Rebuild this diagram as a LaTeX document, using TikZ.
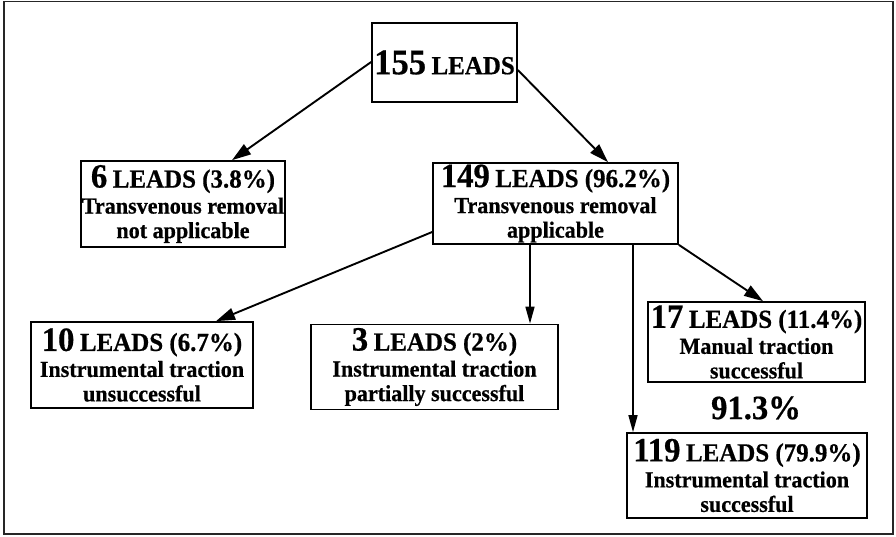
\documentclass[tikz,border=0pt]{standalone}
\usepackage{fontspec}
\setmainfont{Liberation Serif}
\newfontfamily\boxfont{Liberation Serif}[FakeStretch=0.96, FakeBold=0.6]
\usetikzlibrary{arrows.meta}

% number + "LEADS (pct)" header line of a box
\newcommand{\leadhead}[2]{{\fontsize{34}{34}\selectfont #1}\ {\fontsize{26}{26}\selectfont LEADS #2}}

\begin{document}
\begin{tikzpicture}[x=1pt,y=-1pt,
  box/.style={draw, line width=1.7pt, align=center, inner sep=0pt,
    font=\boxfont\bfseries\fontsize{23}{24.5}\selectfont},
  link/.style={line width=1.9pt, -{Triangle[length=19pt,width=12pt]}},
  drop/.style={line width=1.5pt, -{Triangle[length=17pt,width=9pt]}}]

  \useasboundingbox (0,0) rectangle (896,536);
  \draw[line width=1.4pt, black!85] (4,1.5) rectangle (893,534);

  % boxes
  \node[box, minimum width=145pt, minimum height=79pt] (n155) at (444.5,62.5)
    {{\fontsize{36}{36}\selectfont 155}\ {\fontsize{26}{26}\selectfont LEADS}};
  \node[box, minimum width=204pt, minimum height=86pt] (n6) at (183,204)
    {\leadhead{6}{(3.8\%)}\\[1.5pt] Transvenous removal\\ not applicable};
  \node[box, minimum width=245pt, minimum height=81pt] (n149) at (555.5,203.5)
    {\leadhead{149}{(96.2\%)}\\[1.5pt] Transvenous removal\\ applicable};
  \node[box, minimum width=222pt, minimum height=86pt] (n10) at (142,365)
    {\leadhead{10}{(6.7\%)}\\[1.5pt] Instrumental traction\\ unsuccessful};
  \node[box, minimum width=247pt, minimum height=85pt] (n3) at (434.5,367)
    {\leadhead{3}{(2\%)}\\[1.5pt] Instrumental traction\\ partially successful};
  \node[box, minimum width=217pt, minimum height=80pt] (n17) at (756.5,342)
    {\leadhead{17}{(11.4\%)}\\[1.5pt] Manual traction\\ successful};
  \node[font=\boxfont\bfseries\fontsize{34}{34}\selectfont, inner sep=0pt] (pct) at (756,408) {91.3\%};
  \node[box, minimum width=240pt, minimum height=85pt] (n119) at (747,475.5)
    {\leadhead{119}{(79.9\%)}\\[1.5pt] Instrumental traction\\ successful};

  % connectors
  \draw[link] (n155.west |- 0,62) -- (n6.north -| 232,0);
  \draw[link] (n155.east |- 0,70) -- (n149.north -| 608,0);
  \draw[link] (n149.west |- 0,232) -- (n10.north -| 216,0);
  \draw[drop] (n149.south -| 530,0) -- (n3.north -| 530,0);
  \draw[drop] (n149.south -| 633,0) -- (n119.north -| 633,0);
  \draw[link] (n149.south east) -- (n17.north -| 763,0);
\end{tikzpicture}
\end{document}
